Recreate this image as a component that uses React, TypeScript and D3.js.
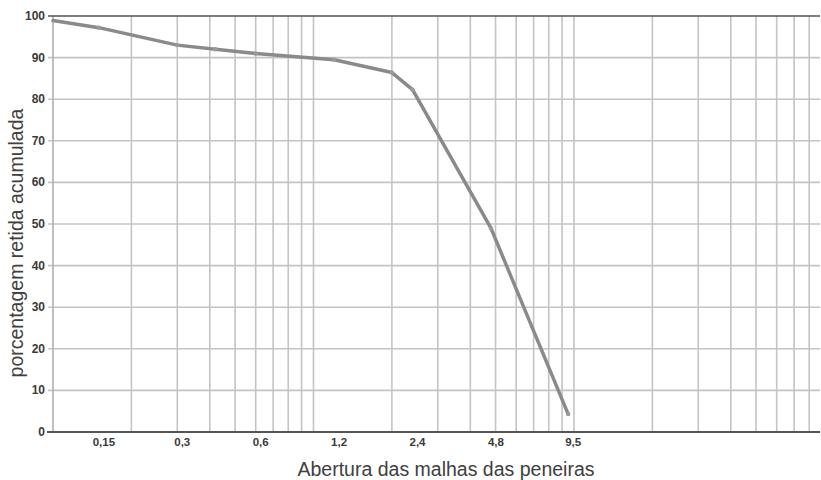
import React, { useEffect, useRef } from "react";
import * as d3 from "d3";

// sieve openings (mm) and cumulative retained (%)
const aberturas = [0.1, 0.15, 0.3, 0.42, 0.6, 1.2, 2.0, 2.4, 4.8, 9.5];
const retidos = [98.9, 97.2, 93.0, 92.0, 91.0, 89.5, 86.4, 82.3, 49.0, 4.3];

const xTickValues = [0.15, 0.3, 0.6, 1.2, 2.4, 4.8, 9.5];
const xTickLabels = ["0,15", "0,3", "0,6", "1,2", "2,4", "4,8", "9,5"];
const yTicks = [0, 10, 20, 30, 40, 50, 60, 70, 80, 90, 100];

export default function App() {
  const ref = useRef<SVGSVGElement>(null);

  useEffect(() => {
    const svg = d3.select(ref.current);
    svg.selectAll("*").remove();

    const left = 53, right = 820, top = 16, bottom = 432;
    const x = d3.scaleLog().domain([0.1, 88]).range([left, right]);
    const y = d3.scaleLinear().domain([0, 100]).range([bottom, top]);
    const font = "Liberation Sans, Arial, sans-serif";

    // vertical grid (log)
    const vLines = x.ticks().filter((v) => v > 0.1 && v <= 88);
    svg.append("g")
      .selectAll("line")
      .data(vLines)
      .enter()
      .append("line")
      .attr("x1", (d) => x(d)).attr("x2", (d) => x(d))
      .attr("y1", top).attr("y2", bottom)
      .attr("stroke", "#c4c4c4")
      .attr("stroke-width", 1.6);

    // horizontal grid
    svg.append("g")
      .selectAll("line")
      .data(yTicks.filter((d) => d > 0 && d < 100))
      .enter()
      .append("line")
      .attr("x1", left - 5).attr("x2", right)
      .attr("y1", (d) => y(d)).attr("y2", (d) => y(d))
      .attr("stroke", "#c4c4c4")
      .attr("stroke-width", 1.6);

    // left axis
    svg.append("line")
      .attr("x1", left).attr("x2", left)
      .attr("y1", top).attr("y2", bottom)
      .attr("stroke", "#b0b0b0").attr("stroke-width", 1.6);
    // top border
    svg.append("line")
      .attr("x1", left - 5).attr("x2", right)
      .attr("y1", y(100)).attr("y2", y(100))
      .attr("stroke", "#555").attr("stroke-width", 1.4);
    // bottom axis
    svg.append("line")
      .attr("x1", left - 6).attr("x2", right)
      .attr("y1", y(0)).attr("y2", y(0))
      .attr("stroke", "#555").attr("stroke-width", 1.8);

    // y tick labels
    svg.append("g")
      .selectAll("text")
      .data(yTicks)
      .enter()
      .append("text")
      .attr("x", left - 8)
      .attr("y", (d) => y(d) + 4)
      .attr("text-anchor", "end")
      .style("font-family", font)
      .style("font-weight", "bold")
      .style("font-size", "12px")
      .attr("fill", "#3a3a3a")
      .text((d) => d);

    // x tick labels
    svg.append("g")
      .selectAll("text")
      .data(xTickValues)
      .enter()
      .append("text")
      .attr("x", (d) => x(d) + 5)
      .attr("y", bottom + 14)
      .attr("text-anchor", "middle")
      .style("font-family", font)
      .style("font-weight", "bold")
      .style("font-size", "11.5px")
      .attr("fill", "#3a3a3a")
      .text((d, i) => xTickLabels[i]);

    // curve
    const pts: [number, number][] = aberturas.map((a, i) => [a, retidos[i]]);
    const line = d3.line<[number, number]>()
      .x((d) => x(d[0]))
      .y((d) => y(d[1]))
      .curve(d3.curveLinear);
    svg.append("path")
      .datum(pts)
      .attr("d", line)
      .attr("fill", "none")
      .attr("stroke", "#8a8a8a")
      .attr("stroke-width", 3.5)
      .attr("stroke-linejoin", "round")
      .attr("stroke-linecap", "round");

    svg.append("g")
      .selectAll("circle")
      .data(pts.slice(1))
      .enter()
      .append("circle")
      .attr("cx", (d) => x(d[0]))
      .attr("cy", (d) => y(d[1]))
      .attr("r", 2.2)
      .attr("fill", "#9a9a9a");

    // axis titles
    svg.append("text")
      .attr("text-anchor", "middle")
      .attr("transform", "translate(23,243)rotate(-90)")
      .style("font-family", font)
      .style("font-size", "19.5px")
      .attr("fill", "#404040")
      .text("porcentagem retida acumulada");

    svg.append("text")
      .attr("x", 446)
      .attr("y", 476)
      .attr("text-anchor", "middle")
      .style("font-family", font)
      .style("font-size", "19.5px")
      .attr("fill", "#404040")
      .text("Abertura das malhas das peneiras");
  }, []);

  return (
    <div>
      <svg ref={ref} width={821} height={480}
        style={{ position: "absolute", left: 0, top: 0, background: "#fff" }} />
    </div>
  );
}
